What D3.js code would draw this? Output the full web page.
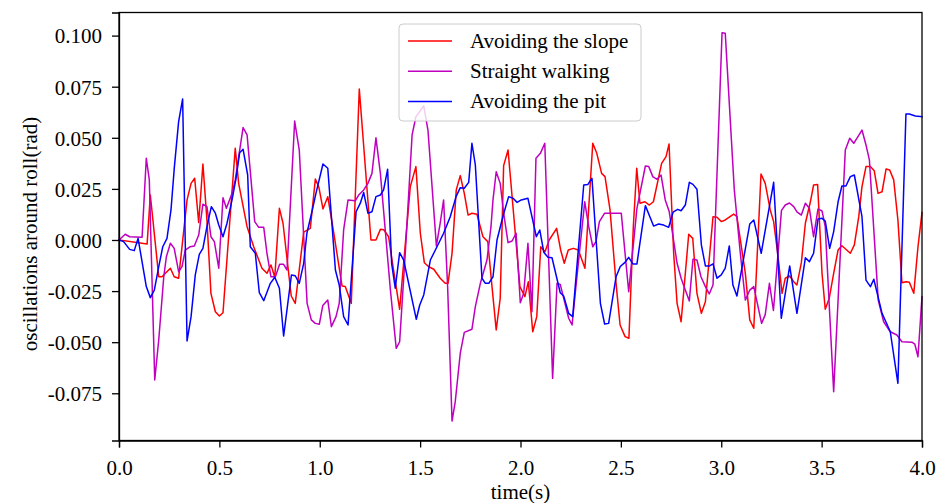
<!DOCTYPE html>
<html>
<head>
<meta charset="utf-8">
<script src="https://cdn.jsdelivr.net/npm/d3@7"></script>
<style>
  body { margin: 0; background: #ffffff; }
  svg { display: block; font-family: "Times New Roman", "Liberation Serif", serif; }
  .axis path, .axis line { stroke: #000000; stroke-width: 1.3; }
  .axis text { font-size: 21px; fill: #000000; font-family: "Times New Roman", "Liberation Serif", serif; }
</style>
</head>
<body>
<div id="chart"></div>
<script>
// series data (time in s, roll in rad)
const slopeTime = [0, 0.14, 0.156, 0.198, 0.214, 0.256, 0.275, 0.297, 0.339, 0.359,
  0.377, 0.397, 0.418, 0.438, 0.458, 0.480, 0.500, 0.518, 0.579, 0.596,
  0.638, 0.671, 0.712, 0.737, 0.757, 0.776, 0.799, 0.817, 0.858, 0.878,
  0.920, 0.953, 0.978, 0.995, 1.016, 1.040, 1.070, 1.111, 1.127, 1.157,
  1.197, 1.255, 1.280, 1.302, 1.319, 1.343, 1.360, 1.398, 1.451, 1.479,
  1.501, 1.521, 1.543, 1.568, 1.600, 1.625, 1.639, 1.659, 1.680, 1.700,
  1.720, 1.739, 1.758, 1.783, 1.813, 1.837, 1.858, 1.879, 1.899, 1.916,
  1.938, 1.997, 2.022, 2.039, 2.061, 2.081, 2.101, 2.122, 2.143, 2.180,
  2.200, 2.218, 2.238, 2.263, 2.288, 2.321, 2.360, 2.380, 2.404, 2.421,
  2.446, 2.476, 2.496, 2.521, 2.540, 2.562, 2.579, 2.595, 2.620, 2.642,
  2.662, 2.703, 2.725, 2.740, 2.763, 2.780, 2.800, 2.838, 2.858, 2.879,
  2.901, 2.921, 2.959, 2.979, 3.000, 3.020, 3.062, 3.078, 3.120, 3.142,
  3.162, 3.198, 3.219, 3.244, 3.261, 3.281, 3.303, 3.319, 3.341, 3.361,
  3.377, 3.399, 3.419, 3.444, 3.460, 3.480, 3.502, 3.518, 3.538, 3.560,
  3.582, 3.601, 3.643, 3.663, 3.685, 3.701, 3.721, 3.743, 3.762, 3.781,
  3.801, 3.821, 3.839, 3.859, 3.880, 3.900, 3.920, 3.937, 3.959, 3.980,
  4.000];
const slopeValues = [0, -0.002, 0.022, -0.018, -0.018, -0.0138, -0.018, -0.0187, 0.0196, 0.0277,
  0.0302, 0.0085, 0.0372, 0.0098, -0.0261, -0.0351, -0.0372, -0.0356, 0.0449, 0.0277,
  0.0065, -0.0033, -0.0138, -0.0163, -0.0122, -0.0182, 0.0155, 0.0082, -0.0274, -0.031,
  0.0038, 0.0057, 0.0298, 0.0261, 0.0152, 0.0212, 0.0033, -0.0225, -0.0228, -0.031,
  0.0739, 0.0, 0.0, 0.0052, 0.005, 0.0016, -0.0098, -0.0339, 0.0261, 0.0359,
  0.0033, -0.0111, -0.0131, -0.0143, -0.0187, -0.0212, -0.0212, -0.0065, 0.0245, 0.0315,
  0.0228, 0.0122, 0.0131, 0.0126, 0.0016, -0.0008, -0.0228, -0.044, -0.0285, 0.0364,
  0.044, -0.0228, -0.0277, -0.0204, -0.0449, -0.0375, -0.0033, -0.0057, 0.0, 0.0057,
  -0.0049, -0.0114, -0.0049, -0.0041, -0.0049, -0.0138, 0.0473, 0.0424, 0.0326, 0.031,
  0.0147, -0.0212, -0.0416, -0.0473, -0.0481, 0.0065, 0.0351, 0.018, 0.0187, 0.0171,
  0.0187, 0.0375, 0.0408, 0.047, -0.0065, -0.031, -0.040, 0.0028, 0.0008, -0.0261,
  -0.0359, -0.0302, 0.0114, 0.0111, 0.009, 0.0098, 0.0127, 0.0114, -0.0163, -0.0391,
  -0.0432, 0.0323, 0.0277, 0.0147, 0.009, -0.0065, -0.0261, -0.0187, -0.0176, -0.0204,
  -0.022, -0.0111, 0.0082, 0.0187, 0.0269, 0.0272, -0.0163, -0.0339, -0.0285, -0.0163,
  -0.0049, -0.0028, -0.0065, -0.0024, 0.0114, 0.0261, 0.0359, 0.0359, 0.0339, 0.0228,
  0.0236, 0.0347, 0.0342, 0.0294, 0.0098, -0.0209, -0.0204, -0.0207, -0.0261, -0.0033,
  0.0134];

const straightTime = [0, 0.031, 0.053, 0.115, 0.136, 0.151, 0.178, 0.198, 0.223, 0.236,
  0.256, 0.275, 0.297, 0.314, 0.330, 0.355, 0.375, 0.397, 0.418, 0.438,
  0.458, 0.475, 0.497, 0.518, 0.535, 0.563, 0.579, 0.618, 0.638, 0.676,
  0.696, 0.721, 0.737, 0.757, 0.779, 0.800, 0.820, 0.837, 0.875, 0.898,
  0.937, 0.958, 0.978, 0.998, 1.015, 1.040, 1.058, 1.081, 1.097, 1.119,
  1.141, 1.177, 1.194, 1.219, 1.240, 1.260, 1.280, 1.302, 1.352, 1.381,
  1.398, 1.426, 1.460, 1.479, 1.518, 1.539, 1.581, 1.600, 1.617, 1.637,
  1.659, 1.675, 1.700, 1.720, 1.758, 1.775, 1.800, 1.833, 1.853, 1.863,
  1.879, 1.899, 1.916, 1.938, 1.958, 1.978, 1.999, 2.016, 2.037, 2.057,
  2.077, 2.099, 2.121, 2.160, 2.182, 2.198, 2.240, 2.257, 2.276, 2.320,
  2.340, 2.360, 2.376, 2.393, 2.419, 2.502, 2.539, 2.580, 2.622, 2.639,
  2.659, 2.680, 2.700, 2.721, 2.741, 2.780, 2.800, 2.821, 2.841, 2.859,
  2.879, 2.899, 2.921, 2.940, 2.959, 3.004, 3.020, 3.065, 3.095, 3.120,
  3.142, 3.162, 3.201, 3.219, 3.240, 3.260, 3.300, 3.319, 3.340, 3.361,
  3.377, 3.399, 3.419, 3.439, 3.460, 3.482, 3.502, 3.518, 3.560, 3.618,
  3.640, 3.660, 3.701, 3.721, 3.738, 3.782, 3.809, 3.842, 3.875, 3.900,
  3.950, 3.964, 3.980, 4.000];
const straightValues = [0, 0.0028, 0.0016, 0.0013, 0.040, 0.0294, -0.0685, -0.0489, -0.018, -0.0082,
  -0.0016, -0.0041, -0.0155, -0.013, -0.0049, -0.0033, -0.0029, 0.0024, 0.0175, 0.0163,
  0.0016, -0.0008, -0.0138, 0.0207, 0.0155, 0.0228, 0.0294, 0.055, 0.0514, 0.009,
  0.0062, 0.0062, -0.0065, -0.018, -0.018, -0.0119, -0.0119, -0.0147, 0.0582, 0.044,
  -0.031, -0.0391, -0.0408, -0.0412, -0.0321, -0.0294, -0.0424, -0.0375, -0.031, 0.0049,
  0.0196, 0.0192, 0.022, 0.0245, 0.0277, 0.0326, 0.050, 0.0326, -0.0245, -0.053,
  -0.0498, -0.0065, 0.0514, 0.0603, 0.0656, 0.0538, -0.0029, 0.0082, 0.0196, -0.0228,
  -0.0886, -0.0791, -0.0554, -0.0452, -0.0437, -0.0326, -0.0212, -0.0098, 0.0065, 0.0196,
  0.0334, 0.0277, 0.0131, -0.0013, -0.0005, 0.0033, -0.0307, -0.0261, -0.0016, -0.0351,
  0.040, 0.0424, 0.0473, -0.0677, -0.0212, -0.0217, -0.0383, -0.0416, -0.0228, 0.0187,
  0.0065, -0.0033, -0.0008, 0.009, 0.0131, 0.0131, -0.0253, 0.0155, 0.0362, 0.0359,
  0.031, 0.0297, 0.0318, 0.0196, 0.0138, -0.0114, -0.0187, -0.0245, -0.0298, -0.0094,
  -0.0098, -0.018, -0.0228, -0.0264, -0.022, 0.1014, 0.1011, 0.0245, -0.0065, -0.0294,
  -0.0245, -0.0228, -0.0408, -0.0365, -0.0212, -0.0345, 0.0145, 0.0171, 0.0181, 0.0163,
  0.0138, 0.0122, 0.018, 0.0155, 0.0016, 0.0152, 0.0142, 0.0065, -0.0742, 0.044,
  0.0498, 0.0473, 0.0538, 0.0465, 0.0391, -0.0294, -0.040, -0.0449, -0.0465, -0.0498,
  -0.05, -0.0509, -0.0571, -0.0277];

const pitTime = [0, 0.023, 0.053, 0.076, 0.095, 0.136, 0.156, 0.176, 0.198, 0.218,
  0.239, 0.259, 0.276, 0.297, 0.317, 0.339, 0.359, 0.380, 0.400, 0.418,
  0.438, 0.460, 0.480, 0.497, 0.518, 0.538, 0.563, 0.583, 0.601, 0.618,
  0.641, 0.654, 0.679, 0.699, 0.721, 0.754, 0.776, 0.799, 0.820, 0.859,
  0.878, 0.898, 0.920, 0.936, 0.961, 0.981, 1.016, 1.040, 1.078, 1.097,
  1.119, 1.141, 1.181, 1.202, 1.219, 1.240, 1.260, 1.280, 1.302, 1.318,
  1.338, 1.358, 1.376, 1.398, 1.418, 1.481, 1.498, 1.518, 1.551, 1.584,
  1.617, 1.650, 1.679, 1.700, 1.720, 1.742, 1.758, 1.775, 1.808, 1.825,
  1.842, 1.863, 1.883, 1.908, 1.919, 1.941, 1.963, 1.983, 2.004, 2.037,
  2.079, 2.096, 2.116, 2.137, 2.157, 2.198, 2.215, 2.240, 2.260, 2.315,
  2.336, 2.356, 2.398, 2.419, 2.439, 2.476, 2.497, 2.519, 2.539, 2.560,
  2.580, 2.622, 2.663, 2.688, 2.713, 2.738, 2.760, 2.783, 2.800, 2.821,
  2.841, 2.859, 2.879, 2.901, 2.921, 2.942, 2.959, 2.979, 3.000, 3.020,
  3.040, 3.058, 3.078, 3.142, 3.162, 3.199, 3.261, 3.299, 3.341, 3.377,
  3.419, 3.439, 3.460, 3.482, 3.502, 3.518, 3.540, 3.560, 3.582, 3.601,
  3.621, 3.643, 3.663, 3.701, 3.721, 3.743, 3.760, 3.801, 3.825, 3.842,
  3.880, 3.920, 3.937, 3.967, 4.000];
const pitValues = [0, -0.0008, -0.0046, -0.0052, 0.0008, -0.0228, -0.0282, -0.0245, -0.013, -0.0033,
  0.0008, 0.0147, 0.0359, 0.0579, 0.069, -0.0494, -0.0375, -0.0171, -0.007, -0.0041,
  0.0065, 0.0163, 0.0131, 0.0073, 0.0016, 0.0082, 0.0196, 0.0302, 0.0427, 0.0444,
  0.0318, -0.0033, -0.0065, -0.0258, -0.0297, -0.0212, -0.0182, -0.0236, -0.047, -0.0171,
  -0.0175, -0.0212, -0.0114, 0.0033, 0.0138, 0.0228, 0.0372, 0.0351, -0.0147, -0.022,
  -0.0375, -0.0416, 0.0138, 0.018, 0.0232, 0.0131, 0.0138, 0.0212, 0.022, 0.0245,
  0.0346, -0.0114, -0.0236, -0.0062, -0.0098, -0.0388, -0.0318, -0.0269, -0.0098, -0.0033,
  0.0033, 0.0114, 0.0212, 0.0256, 0.0253, 0.0282, 0.0473, 0.0367, -0.0187, -0.0212,
  -0.0212, -0.018, 0.0, 0.0098, 0.0138, 0.0212, 0.0204, 0.0184, 0.0196, 0.0204,
  0.0016, 0.0049, -0.006, -0.0085, -0.0087, -0.0258, -0.0274, -0.0359, -0.0375, 0.0269,
  0.0272, 0.0302, -0.031, -0.0411, -0.0408, -0.018, -0.013, -0.0111, -0.0085, -0.0117,
  -0.0117, 0.0168, 0.0068, 0.0078, 0.0073, 0.0062, 0.0136, 0.015, 0.0143, 0.0171,
  0.0282, 0.0272, 0.0248, -0.0024, -0.0127, -0.0127, -0.0117, -0.0187, -0.0171, -0.0138,
  -0.0029, -0.022, -0.0274, 0.0078, 0.0098, -0.0065, 0.0282, -0.0383, -0.0127, -0.0359,
  -0.0087, -0.0106, -0.0065, 0.0103, 0.0106, 0.0093, -0.0041, 0.0041, 0.0187, 0.0264,
  0.0264, 0.031, 0.0318, 0.0114, -0.0196, -0.0228, -0.0192, -0.0359, -0.0411, -0.0449,
  -0.0701, 0.0616, 0.0616, 0.0607, 0.0603];

const seriesNames = ["Avoiding the slope", "Straight walking", "Avoiding the pit"];
const xTicks = [0, 0.5, 1, 1.5, 2, 2.5, 3, 3.5, 4];
const yTicks = [-0.075, -0.05, -0.025, 0, 0.025, 0.05, 0.075, 0.1];

// matplotlib-ish colours
const SLOPE_COLOR = "#ff0000";
const STRAIGHT_COLOR = "#bf00bf";
const PIT_COLOR = "#0000ff";

let margin = null, width = null, height = null;
let svg = null;
let x = null, y = null;

renderChart();

function renderChart() {
  setupCanvasSize();
  appendSvg("#chart");
  setupScales();
  appendChartLine(slopeTime, slopeValues, SLOPE_COLOR);
  appendChartLine(straightTime, straightValues, STRAIGHT_COLOR);
  appendChartLine(pitTime, pitValues, PIT_COLOR);
  appendAxes();
  appendLabels();
  appendLegend([SLOPE_COLOR, STRAIGHT_COLOR, PIT_COLOR]);
}

/**
 * @method setupCanvasSize
 * @description page is 941x503, plot box sits between x 119..922 and y 12.5..440.5
 */
function setupCanvasSize() {
  margin = {top: 12.5, left: 119, bottom: 62.5, right: 19};
  width = 941 - margin.left - margin.right;
  height = 503 - margin.top - margin.bottom;
}

function appendSvg(domElement) {
  let root = d3.select(domElement)
    .append("svg")
    .attr("width", 941)
    .attr("height", 503);

  root.append("rect")
    .attr("width", 941)
    .attr("height", 503)
    .attr("fill", "#ffffff");

  svg = root.append("g")
    .attr("transform", `translate(${margin.left}, ${margin.top})`);
}

/**
 * @method setupScales
 * @description y limits picked so that 0 lands on pixel 240 and 0.025 spans ~51px
 */
function setupScales() {
  x = d3.scaleLinear()
    .domain([0, 4])
    .range([0, width]);

  y = d3.scaleLinear()
    .domain([-0.0981, 0.1113])
    .range([height, 0]);
}

function appendChartLine(times, values, lineColor) {
  let points = times.map(function(t, i) {
    return {t: t, v: values[i]};
  });

  let line = d3.line()
    .x(function(d) { return x(d.t); })
    .y(function(d) { return y(d.v); });

  svg.append("path")
    .datum(points)
    .attr("fill", "none")
    .attr("stroke", lineColor)
    .attr("stroke-width", 1.5)
    .attr("stroke-linejoin", "round")
    .attr("stroke-linecap", "square")
    .attr("d", line);
}

function appendAxes() {
  // hyphen minus like the original, not the unicode one d3 uses
  let yFormat = function(d) { return d3.format(".3f")(d).replace("−", "-"); };

  svg.append("g")
    .attr("class", "x axis")
    .attr("transform", `translate(0, ${height})`)
    .call(d3.axisBottom(x)
      .tickValues(xTicks)
      .tickSize(7)
      .tickPadding(10)
      .tickFormat(d3.format(".1f")));

  svg.append("g")
    .attr("class", "y axis")
    .call(d3.axisLeft(y)
      .tickValues(yTicks)
      .tickSize(7)
      .tickPadding(10)
      .tickFormat(yFormat));

  svg.selectAll(".y.axis .tick text").attr("dy", "0.35em");
  svg.selectAll(".x.axis .tick text").attr("dy", "0.85em");

  // full box around the plot
  svg.append("rect")
    .attr("x", 0)
    .attr("y", 0)
    .attr("width", width)
    .attr("height", height)
    .attr("fill", "none")
    .attr("stroke", "#000000")
    .attr("stroke-width", 1.3);
}

function appendLabels() {
  svg.append("text")
    .attr("x", width / 2)
    .attr("y", height + 58)
    .attr("text-anchor", "middle")
    .style("font-size", "21px")
    .text("time(s)");

  svg.append("text")
    .attr("transform", `translate(${37 - margin.left}, ${234 - margin.top}) rotate(-90)`)
    .attr("text-anchor", "middle")
    .style("font-size", "21px")
    .text("oscillations around roll(rad)");
}

function appendLegend(colors) {
  let legend = svg.append("g")
    .attr("class", "legend")
    .attr("transform", `translate(${399 - margin.left}, ${24 - margin.top})`);

  legend.append("rect")
    .attr("width", 242)
    .attr("height", 97)
    .attr("rx", 4)
    .attr("fill", "#ffffff")
    .attr("fill-opacity", 0.8)
    .attr("stroke", "#cccccc")
    .attr("stroke-width", 1);

  seriesNames.forEach(function(name, i) {
    let rowY = 17 + i * 30.2;
    legend.append("line")
      .attr("x1", 9)
      .attr("x2", 53)
      .attr("y1", rowY)
      .attr("y2", rowY)
      .attr("stroke", colors[i])
      .attr("stroke-width", 1.5);

    legend.append("text")
      .attr("x", 71)
      .attr("y", rowY)
      .attr("dy", "0.33em")
      .style("font-size", "21px")
      .text(name);
  });
}
</script>
</body>
</html>
